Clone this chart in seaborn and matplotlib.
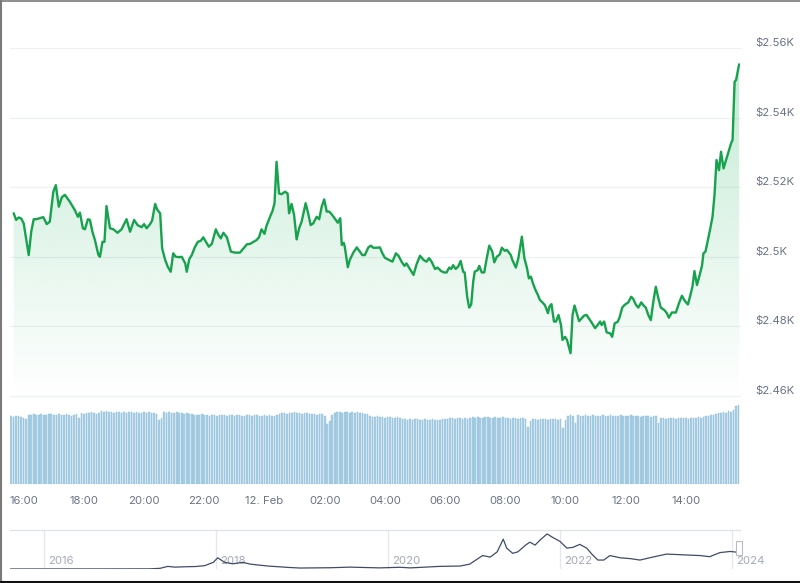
import numpy as np
import pandas as pd
import matplotlib
matplotlib.use("Agg")
import matplotlib.pyplot as plt
import matplotlib.dates as mdates
import matplotlib.transforms as mtransforms
from matplotlib.patches import Polygon, Rectangle
from matplotlib.colors import to_rgb
import seaborn as sns

sns.set_theme(style="white")
plt.rcParams['font.family'] = ['Inter', 'DejaVu Sans']

# ---------------- data ----------------
price_minutes = [
    -20, -15, -10, -5, 0, 10, 15, 20, 25, 32, 39, 46, 52, 59, 64, 70, 76, 82, 92, 102,
    108, 112, 118, 122, 128, 132, 137, 142, 149, 152, 157, 161, 165, 172, 179, 187, 195, 205, 212, 220,
    227, 235, 240, 245, 252, 256, 262, 266, 272, 276, 282, 287, 293, 298, 303, 310, 315, 322, 325, 330,
    335, 341, 347, 353, 358, 365, 369, 375, 383, 388, 393, 398, 405, 413, 421, 431, 438, 445, 451, 458,
    464, 469, 474, 480, 484, 491, 496, 500, 504, 509, 514, 521, 526, 529, 534, 539, 544, 549, 554, 562,
    567, 572, 577, 584, 589, 594, 599, 604, 609, 615, 622, 626, 631, 634, 638, 640, 646, 650, 657, 664,
    670, 675, 680, 687, 692, 697, 704, 710, 715, 720, 728, 735, 742, 747, 754, 759, 763, 769, 777, 783,
    790, 797, 803, 808, 813, 820, 825, 832, 838, 843, 848, 852, 856, 861, 866, 871, 876, 879, 884, 888,
    892, 896, 899, 905, 908, 913, 918, 923, 928, 934, 938, 943, 949, 953, 959, 963, 971, 974, 981, 986,
    993, 998, 1003, 1007, 1011, 1015, 1020, 1025, 1029, 1034, 1039, 1045, 1048, 1052, 1057, 1061, 1066, 1071, 1074, 1079,
    1083, 1090, 1094, 1098, 1102, 1107, 1112, 1117, 1122, 1129, 1133, 1139, 1144, 1149, 1152, 1157, 1162, 1169, 1173, 1178,
    1184, 1188, 1193, 1198, 1205, 1211, 1215, 1220, 1225, 1231, 1235, 1240, 1245, 1250, 1255, 1260, 1265, 1270, 1277, 1282,
    1286, 1292, 1300, 1306, 1312, 1318, 1324, 1328, 1333, 1337, 1342, 1346, 1352, 1355, 1359, 1363, 1368, 1373, 1377, 1381,
    1386, 1390, 1395, 1399, 1405, 1410, 1413, 1417, 1420, 1426,
]
price_values = [
    2512.5, 2510.6, 2511.3, 2511.0, 2509.6, 2500.5, 2507.2, 2510.8, 2510.8, 2511.1, 2511.4, 2509.4, 2510.1, 2518.7, 2520.6, 2514.4, 2517.1, 2517.8, 2515.8, 2513.4,
    2511.5, 2512.7, 2508.2, 2507.9, 2510.8, 2510.6, 2507.2, 2504.8, 2500.5, 2500.0, 2504.3, 2504.3, 2514.6, 2508.2, 2507.9, 2506.9, 2507.9, 2510.8, 2507.2, 2510.6,
    2509.1, 2508.5, 2509.4, 2508.2, 2509.4, 2510.4, 2515.2, 2513.6, 2512.5, 2502.4, 2499.1, 2497.2, 2495.7, 2501.0, 2500.0, 2499.9, 2500.0, 2498.1, 2495.7, 2499.3,
    2500.5, 2502.7, 2504.3, 2504.6, 2505.6, 2503.9, 2502.9, 2503.7, 2507.9, 2506.3, 2505.3, 2506.9, 2505.6, 2501.5, 2501.2, 2501.2, 2502.4, 2503.6, 2503.7, 2504.3,
    2504.8, 2505.6, 2507.9, 2506.6, 2508.9, 2511.5, 2513.2, 2515.4, 2527.3, 2518.2, 2518.0, 2518.7, 2518.2, 2512.5, 2515.2, 2512.0, 2505.0, 2508.2, 2510.1, 2515.4,
    2512.5, 2509.1, 2509.6, 2511.5, 2510.8, 2514.4, 2516.5, 2513.0, 2513.0, 2512.0, 2510.6, 2509.8, 2511.1, 2503.4, 2504.0, 2502.9, 2497.0, 2499.1, 2501.2, 2502.7,
    2501.5, 2500.5, 2500.5, 2502.7, 2503.2, 2502.6, 2502.6, 2502.7, 2501.0, 2499.7, 2499.1, 2498.6, 2501.0, 2500.3, 2498.4, 2497.4, 2498.1, 2496.7, 2494.8, 2497.8,
    2500.3, 2499.1, 2498.6, 2499.6, 2498.6, 2496.5, 2496.9, 2495.9, 2495.5, 2495.5, 2496.9, 2496.5, 2497.6, 2496.5, 2497.2, 2498.8, 2495.7, 2495.5, 2488.5, 2485.4,
    2486.3, 2492.9, 2495.7, 2496.2, 2497.4, 2495.5, 2495.5, 2499.6, 2503.2, 2501.5, 2498.4, 2500.0, 2500.7, 2502.6, 2501.7, 2502.0, 2500.5, 2499.1, 2496.9, 2499.6,
    2505.8, 2499.6, 2496.9, 2493.8, 2494.3, 2492.4, 2490.5, 2489.0, 2487.6, 2486.9, 2486.1, 2483.8, 2485.7, 2486.4, 2481.4, 2481.4, 2483.3, 2480.4, 2476.1, 2477.0,
    2476.1, 2472.3, 2483.3, 2486.0, 2484.0, 2481.5, 2482.3, 2483.1, 2483.3, 2481.8, 2480.9, 2479.5, 2480.4, 2481.4, 2480.4, 2481.4, 2478.3, 2478.0, 2477.0, 2480.9,
    2481.3, 2482.7, 2485.4, 2486.2, 2486.9, 2488.5, 2487.9, 2486.3, 2485.4, 2486.9, 2486.1, 2485.4, 2483.3, 2481.8, 2487.1, 2491.4, 2488.1, 2485.4, 2484.7, 2483.8,
    2482.5, 2484.0, 2484.0, 2486.6, 2488.8, 2487.3, 2486.3, 2488.5, 2491.4, 2495.9, 2491.9, 2494.0, 2497.4, 2501.0, 2501.5, 2504.3, 2507.7, 2511.5, 2517.8, 2527.8,
    2524.9, 2530.2, 2525.4, 2527.3, 2530.2, 2532.6, 2533.6, 2550.3, 2550.8, 2555.3,
]

volume_start_minute = -25
volume_values = [
    6.8, 6.7, 6.8, 6.8, 6.7, 6.6, 6.5,
    6.9, 6.9, 7.0, 6.9, 6.9, 7.0, 6.9, 6.9, 7.0, 7.0, 6.9, 6.9, 7.0, 6.9, 6.9, 7.0, 6.9, 6.8, 6.9, 7.0,
    6.6,
    7.1, 7.0, 7.1, 7.1, 7.2, 7.1, 7.0, 7.1,
    7.3, 7.2, 7.3, 7.2,
    7.2, 7.1, 7.2, 7.2, 7.1, 7.2, 7.1, 7.2, 7.2, 7.1, 7.2, 7.1, 7.1, 7.2, 7.1, 7.2, 7.1, 7.1, 7.0,
    6.4, 6.6,
    7.2, 7.1, 7.2, 7.1, 7.1, 7.2, 7.1, 7.1, 7.0, 7.1, 7.0, 7.0,
    6.9, 6.9, 6.9, 7.0, 6.9, 6.9, 6.8, 6.9, 6.9, 6.8, 6.9, 6.9, 6.9, 6.8, 6.9, 6.9, 6.8, 6.9, 6.9, 6.8, 6.8, 6.9, 6.9, 6.8, 6.9, 6.9, 6.8,
    6.8, 6.9, 6.8, 6.9, 6.8, 6.8, 6.9,
    7.0, 7.1, 7.1, 7.0, 7.1, 7.1, 7.2, 7.1, 7.1, 7.0, 7.1, 7.1, 7.0,
    7.0, 7.0, 6.9, 7.0, 7.0, 6.8,
    6.0, 6.3,
    6.9, 7.1,
    7.2, 7.2, 7.1, 7.2, 7.2, 7.1, 7.2, 7.1, 7.2, 7.1, 7.1, 7.0, 7.0,
    6.8, 6.7, 6.7, 6.8, 6.7, 6.7, 6.6, 6.7, 6.7, 6.6, 6.6, 6.7, 6.6,
    6.5, 6.5, 6.4, 6.5, 6.4, 6.5, 6.5, 6.4, 6.4, 6.5, 6.4, 6.4, 6.5, 6.4, 6.4, 6.4, 6.5, 6.5, 6.5, 6.6, 6.6, 6.5, 6.6, 6.6, 6.5, 6.6, 6.5,
    6.6, 6.7, 6.6, 6.7, 6.6, 6.6, 6.7, 6.7, 6.6, 6.6, 6.7, 6.6, 6.6, 6.7, 6.6, 6.6, 6.5, 6.6, 6.6, 6.5, 6.6, 6.6, 6.5,
    5.7,
    6.3, 6.5, 6.5, 6.4, 6.5, 6.5, 6.5, 6.4, 6.5, 6.5, 6.5, 6.4, 6.5,
    5.6,
    6.4, 6.8, 6.9, 6.8,
    6.1,
    6.9, 6.8, 6.8, 6.9, 6.8, 6.8, 6.9, 6.8, 6.8, 6.8, 6.9, 6.8, 6.8, 6.9, 6.8, 6.8, 6.8, 6.9, 6.8, 6.8, 6.8, 6.9, 6.8, 6.8, 6.8, 6.7, 6.8, 6.8, 6.8, 6.7, 6.8,
    6.8,
    6.1,
    6.6, 6.6, 6.5, 6.6, 6.6, 6.6, 6.5, 6.6, 6.6, 6.6, 6.6, 6.5, 6.6, 6.6, 6.6, 6.7, 6.6,
    6.7, 6.8, 6.8, 6.9, 6.9, 7.0, 7.1, 7.1, 7.2, 7.1, 7.3, 7.2, 7.4,
    7.8, 7.9,
]

history_years = [
    2015.6, 2016.65, 2017.23, 2017.35, 2017.44, 2017.52, 2017.64, 2017.76, 2017.87, 2017.97,
    2018.02, 2018.10, 2018.19, 2018.24, 2018.31, 2018.40, 2018.60, 2018.86, 2018.98, 2019.33,
    2019.56, 2019.90, 2020.14, 2020.26, 2020.60, 2020.84, 2020.95, 2021.10, 2021.19, 2021.27,
    2021.34, 2021.38, 2021.45, 2021.51, 2021.60, 2021.65, 2021.71, 2021.77, 2021.85, 2021.92,
    2022.00, 2022.08, 2022.15, 2022.23, 2022.31, 2022.37, 2022.44, 2022.51, 2022.58, 2022.70,
    2022.81, 2022.93, 2023.08, 2023.24, 2023.43, 2023.63, 2023.74, 2023.86, 2023.98, 2024.06, 2024.10,
]
history_prices = [
    1, 10, 20, 90, 350, 250, 300, 330, 450, 900,
    1500, 900, 700, 760, 900, 650, 400, 200, 130, 170,
    250, 150, 230, 150, 350, 400, 650, 1800, 1600, 2300,
    4000, 2800, 2100, 2300, 3200, 3600, 3200, 3900, 4700, 4200,
    3700, 2800, 2900, 3300, 2800, 2000, 1200, 1200, 1800, 1500,
    1400, 1200, 1600, 2000, 1900, 1800, 1650, 2200, 2350, 2250, 2500,
]

price_ticks = [2460, 2480, 2500, 2520, 2540, 2560]
price_tick_labels = ["$2.46K", "$2.48K", "$2.5K", "$2.52K", "$2.54K", "$2.56K"]
time_tick_labels = ["16:00", "18:00", "20:00", "22:00", "12. Feb", "02:00",
                    "04:00", "06:00", "08:00", "10:00", "12:00", "14:00"]
year_ticks = [2016, 2018, 2020, 2022, 2024]

# ---------------- styling ----------------
W, H = 800, 583
LINE = "#17a24d"
FILL = "#2fb86a"
TXT = "#6b7385"
GRID = "#eef0f3"
BAR_FACE = "#a9cfe4"
BAR_EDGE = "#8dbcda"

base = pd.Timestamp("2024-02-11 16:00")
df = pd.DataFrame({"time": base + pd.to_timedelta(price_minutes, unit="min"),
                   "price": price_values})
vol_df = pd.DataFrame({"time": pd.date_range(base + pd.Timedelta(minutes=volume_start_minute),
                                             periods=len(volume_values), freq="5min"),
                       "volume": volume_values})
x_lo = base + pd.Timedelta(minutes=-27.3)
x_hi = base + pd.Timedelta(minutes=1427.8)


def fax(left, top, right, bottom):
    return [left / W, (H - bottom) / H, (right - left) / W, (bottom - top) / H]


fig = plt.figure(figsize=(W / 100, H / 100), dpi=100)
fig.patch.set_facecolor("white")

# ---------------- price panel ----------------
ax = fig.add_axes(fax(10, 48, 740, 396))
ax.set_facecolor("none")
for y in price_ticks:
    ax.axhline(y, color=GRID, lw=0.9, zorder=0, clip_on=False)

sns.lineplot(data=df, x="time", y="price", ax=ax, color=LINE, linewidth=1.7, zorder=3)

xnum = mdates.date2num(df["time"])
verts = [(xnum[0], 2460)] + list(zip(xnum, df["price"])) + [(xnum[-1], 2460)]
poly = Polygon(verts, facecolor="none", edgecolor="none")
ax.add_patch(poly)
n = 256
rgba = np.zeros((n, 1, 4))
rgba[..., :3] = to_rgb(FILL)
rgba[..., 3] = np.linspace(0.30, 0.0, n).reshape(-1, 1)
im = ax.imshow(rgba, extent=[mdates.date2num(x_lo), mdates.date2num(x_hi), 2460, 2560],
               aspect="auto", origin="upper", zorder=1, interpolation="bilinear")
im.set_clip_path(poly)

ax.set_xlim(x_lo, x_hi)
ax.set_ylim(2460, 2560)
ax.set_xticks([])
ax.set_yticks([])
ax.set_xlabel("")
ax.set_ylabel("")
for s in ax.spines.values():
    s.set_visible(False)

off = mtransforms.ScaledTranslation(15 / 100, 5 / 100, fig.dpi_scale_trans)
tr = mtransforms.blended_transform_factory(ax.transAxes, ax.transData) + off
for v, lab in zip(price_ticks, price_tick_labels):
    ax.text(1.0, v, lab, transform=tr, ha="left", va="center", fontsize=8.2, color=TXT)

# ---------------- volume panel ----------------
axv = fig.add_axes(fax(10, 405, 740, 484))
axv.set_facecolor("none")
axv.bar(vol_df["time"], vol_df["volume"], width=3.2 / 1440, color=BAR_FACE,
        edgecolor=BAR_EDGE, linewidth=0.3, align="center")
axv.set_xlim(x_lo, x_hi)
axv.set_ylim(0, 7.9)
axv.set_yticks([])
tick_times = [base + pd.Timedelta(hours=2 * k) for k in range(len(time_tick_labels))]
axv.set_xticks(tick_times)
axv.set_xticklabels(time_tick_labels)
axv.tick_params(axis="x", length=0, pad=9, labelsize=8.2, labelcolor=TXT)
for s in axv.spines.values():
    s.set_visible(False)

# ---------------- navigator ----------------
axn = fig.add_axes(fax(10, 530, 740, 569))
axn.set_facecolor("none")
for yr in year_ticks:
    axn.axvline(yr, color="#e4e7eb", lw=0.9, zorder=0)
sns.lineplot(x=history_years, y=history_prices, ax=axn, color="#3e4c68", linewidth=0.9, zorder=3)
axn.set_xlim(2015.605, 2024.093)
axn.set_ylim(0, 5226)
axn.set_xticks([])
axn.set_yticks([])
for s in axn.spines.values():
    s.set_visible(False)
axn.spines["top"].set_visible(True)
axn.spines["top"].set_color("#dfe2e6")
axn.spines["top"].set_linewidth(0.9)
axn.axvline(2024.093, color="#dfe2e6", lw=0.9, zorder=0)
ytr = mtransforms.blended_transform_factory(axn.transData, axn.transAxes) + \
    mtransforms.ScaledTranslation(4 / 100, 0, fig.dpi_scale_trans)
for yr in year_ticks:
    axn.text(yr, 0.2, str(yr), transform=ytr, ha="left", va="center", fontsize=8.2,
             color="#a3a9b5", zorder=2)

# navigator handle
fig.add_artist(Rectangle((736 / W, (H - 555) / H), 6 / W, 14 / H, transform=fig.transFigure,
                         facecolor="white", edgecolor="#b7bcc4", linewidth=0.8, zorder=5))

# ---------------- frame of the screenshot ----------------
fig.add_artist(plt.Line2D([0.8 / W, 0.8 / W], [0, 1], transform=fig.transFigure,
                          color="#7a7a7a", lw=1.5))
fig.add_artist(plt.Line2D([0, 1], [1 - 0.5 / H, 1 - 0.5 / H], transform=fig.transFigure,
                          color="#7a7a7a", lw=1.2))
fig.add_artist(plt.Line2D([0, 1], [1.2 / H, 1.2 / H], transform=fig.transFigure,
                          color="#111111", lw=2.2))

fig.savefig("out.png", dpi=100, facecolor="white")
